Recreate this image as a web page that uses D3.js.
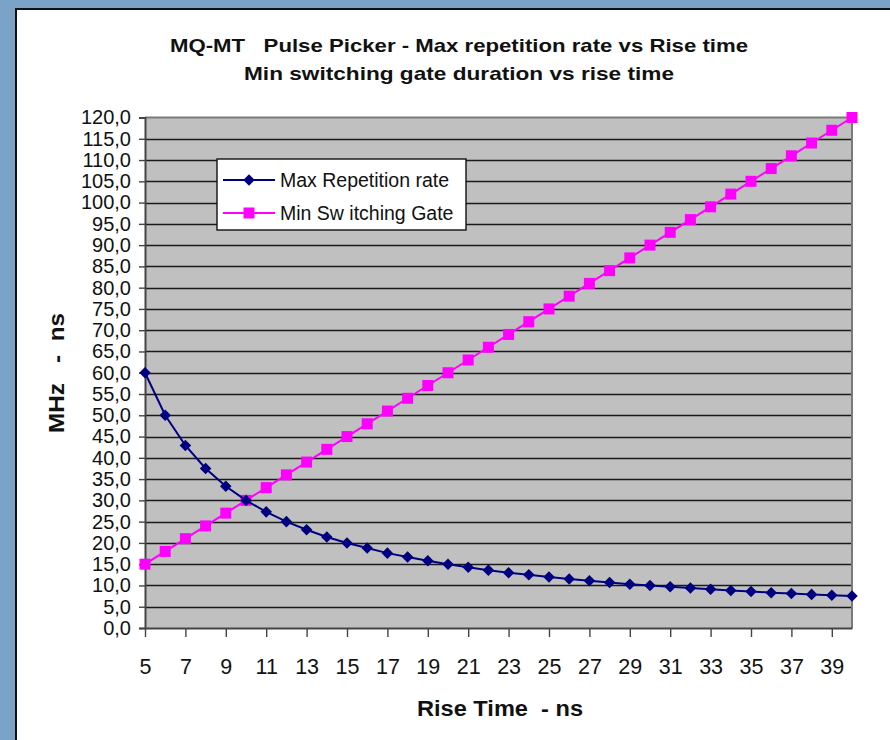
<!DOCTYPE html>
<html>
<head>
<meta charset="utf-8">
<script src="https://cdn.jsdelivr.net/npm/d3@7.9.0/dist/d3.min.js"></script>
<style>
  html, body { margin: 0; padding: 0; background: #7ba3c7; }
  svg { display: block; font-family: "Liberation Sans", Arial, sans-serif; }
  text { white-space: pre; }
</style>
</head>
<body>
<svg id="chart" width="890" height="740"></svg>
<script>
const riseTime = [5, 6, 7, 8, 9, 10, 11, 12, 13, 14, 15, 16, 17, 18, 19, 20, 21, 22, 23, 24,
  25, 26, 27, 28, 29, 30, 31, 32, 33, 34, 35, 36, 37, 38, 39, 40];
const maxRepRate = [60.0, 50.0, 42.9, 37.5, 33.3, 30.0, 27.3, 25.0, 23.1, 21.4, 20.0, 18.8,
  17.6, 16.7, 15.8, 15.0, 14.3, 13.6, 13.0, 12.5, 12.0, 11.5, 11.1, 10.7, 10.3, 10.0,
  9.7, 9.4, 9.1, 8.8, 8.6, 8.3, 8.1, 7.9, 7.7, 7.5];
const minGate = [15, 18, 21, 24, 27, 30, 33, 36, 39, 42, 45, 48, 51, 54, 57, 60, 63, 66, 69, 72,
  75, 78, 81, 84, 87, 90, 93, 96, 99, 102, 105, 108, 111, 114, 117, 120];
const xTickLabels = [5, 7, 9, 11, 13, 15, 17, 19, 21, 23, 25, 27, 29, 31, 33, 35, 37, 39];
const yTicks = d3.range(0, 121, 5);
const titleLines = ["MQ-MT   Pulse Picker - Max repetition rate vs Rise time",
  "Min switching gate duration vs rise time"];
const seriesNames = ["Max Repetition rate", "Min Sw itching Gate"];

const svg = d3.select("#chart");

// white chart area with dark frame
svg.append("rect")
  .attr("x", 16).attr("y", 9).attr("width", 890).attr("height", 740)
  .attr("fill", "#fff").attr("stroke", "#111").attr("stroke-width", 2);

const plot = { left: 145, right: 852, top: 117.5, bottom: 628 };

const x = d3.scaleLinear().domain([5, 40]).range([plot.left, plot.right]);
const y = d3.scaleLinear().domain([0, 120]).range([plot.bottom, plot.top]);

// plot background
svg.append("rect")
  .attr("x", plot.left).attr("y", plot.top)
  .attr("width", plot.right - plot.left).attr("height", plot.bottom - plot.top)
  .attr("fill", "#c0c0c0");

// gridlines
svg.append("g")
  .selectAll("line")
  .data(yTicks.filter(d => d > 0 && d < 120))
  .join("line")
  .attr("x1", plot.left).attr("x2", plot.right)
  .attr("y1", d => Math.round(y(d)) + 0.5).attr("y2", d => Math.round(y(d)) + 0.5)
  .attr("stroke", "#1a1a1a").attr("stroke-width", 1.4);

// top and right plot border
svg.append("path")
  .attr("d", `M${plot.left},${plot.top}H${plot.right}V${plot.bottom}`)
  .attr("fill", "none").attr("stroke", "#7a7a7a").attr("stroke-width", 2);

// y axis
const yAxis = svg.append("g")
  .attr("transform", `translate(${plot.left},0)`)
  .call(d3.axisLeft(y).tickValues(yTicks).tickSize(6).tickPadding(8)
    .tickFormat(d => d3.format(".1f")(d).replace(".", ",")));
yAxis.select(".domain").attr("stroke", "#444").attr("stroke-width", 2);
yAxis.selectAll(".tick line").attr("stroke", "#444").attr("stroke-width", 1.4);
yAxis.selectAll("text").attr("font-size", 20).attr("fill", "#111")
  .attr("font-family", "Liberation Sans, Arial, sans-serif");

// x axis
const xAxis = svg.append("g")
  .attr("transform", `translate(0,${plot.bottom})`)
  .call(d3.axisBottom(x).tickValues(xTickLabels).tickSize(9).tickPadding(22)
    .tickSizeOuter(0));
xAxis.select(".domain").attr("stroke", "#444").attr("stroke-width", 2);
xAxis.selectAll(".tick line").attr("stroke", "#444").attr("stroke-width", 1.4);
xAxis.selectAll("text").attr("font-size", 21.5).attr("fill", "#111")
  .attr("font-family", "Liberation Sans, Arial, sans-serif");

// series
const line = d3.line().x((d, i) => x(riseTime[i])).y(d => y(d));

svg.append("path").datum(minGate)
  .attr("d", line).attr("fill", "none").attr("stroke", "#ff00ff").attr("stroke-width", 2);
svg.append("g").selectAll("rect").data(minGate).join("rect")
  .attr("x", (d, i) => x(riseTime[i]) - 5.5).attr("y", d => y(d) - 5.5)
  .attr("width", 11).attr("height", 11).attr("fill", "#ff00ff");

svg.append("path").datum(maxRepRate)
  .attr("d", line).attr("fill", "none").attr("stroke", "#000080").attr("stroke-width", 2);
const diamond = d3.symbol().type(d3.symbolDiamond2).size(85);
svg.append("g").selectAll("path").data(maxRepRate).join("path")
  .attr("d", diamond)
  .attr("transform", (d, i) => `translate(${x(riseTime[i])},${y(d)})`)
  .attr("fill", "#000080");

// legend
const lg = svg.append("g").attr("transform", "translate(217,159)");
lg.append("rect").attr("width", 249).attr("height", 71)
  .attr("fill", "#fff").attr("stroke", "#111").attr("stroke-width", 1.4);
const rowsY = [21, 54];
lg.append("line").attr("x1", 6).attr("x2", 58).attr("y1", rowsY[0]).attr("y2", rowsY[0])
  .attr("stroke", "#000080").attr("stroke-width", 2);
lg.append("path").attr("d", diamond)
  .attr("transform", `translate(32,${rowsY[0]})`).attr("fill", "#000080");
lg.append("line").attr("x1", 6).attr("x2", 58).attr("y1", rowsY[1]).attr("y2", rowsY[1])
  .attr("stroke", "#ff00ff").attr("stroke-width", 2);
lg.append("rect").attr("x", 26.5).attr("y", rowsY[1] - 5.5).attr("width", 11).attr("height", 11)
  .attr("fill", "#ff00ff");
lg.selectAll("text.lab").data(seriesNames).join("text")
  .attr("x", 63).attr("y", (d, i) => rowsY[i] + 7)
  .attr("font-size", 19.5).attr("fill", "#111").text(d => d);

// titles
const titleWidths = [578, 430];
svg.selectAll("text.title").data(titleLines).join("text")
  .attr("x", 459).attr("y", (d, i) => 52 + i * 28)
  .attr("text-anchor", "middle").attr("font-size", 19).attr("font-weight", "bold")
  .attr("textLength", (d, i) => titleWidths[i]).attr("lengthAdjust", "spacingAndGlyphs")
  .attr("fill", "#111").text(d => d);

svg.append("text")
  .attr("x", 500).attr("y", 716).attr("text-anchor", "middle")
  .attr("font-size", 22).attr("font-weight", "bold").attr("fill", "#111")
  .attr("textLength", 166).attr("lengthAdjust", "spacingAndGlyphs")
  .text("Rise Time  - ns");

svg.append("text")
  .attr("transform", "translate(64,373) rotate(-90)")
  .attr("text-anchor", "middle")
  .attr("font-size", 22).attr("font-weight", "bold").attr("fill", "#111")
  .attr("textLength", 120).attr("lengthAdjust", "spacingAndGlyphs")
  .text("MHz   -  ns");
</script>
</body>
</html>
